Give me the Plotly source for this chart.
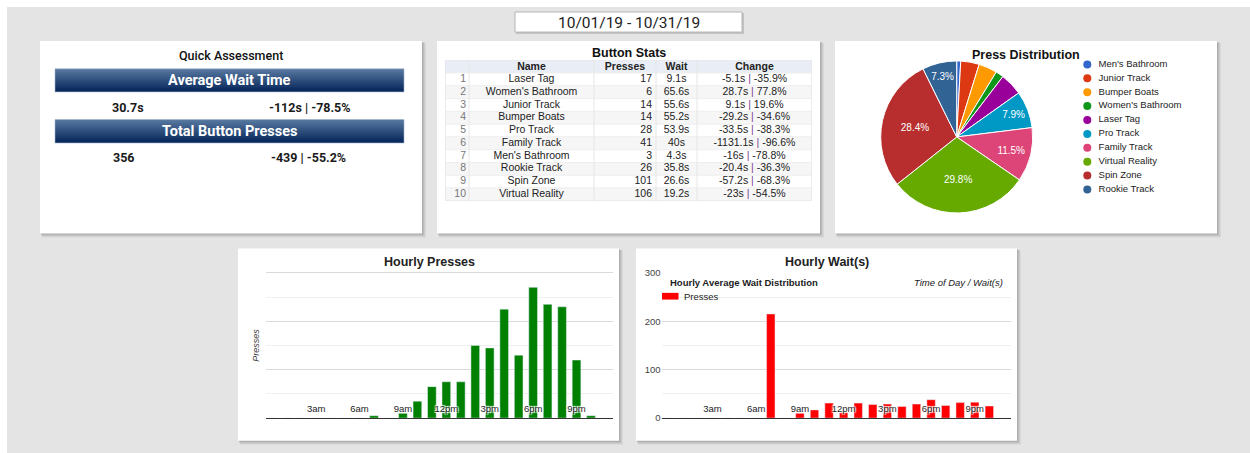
import plotly.graph_objects as go

W, H = 1250, 453

# ---------------- data ----------------
date_range = "10/01/19 - 10/31/19"
qa_title = "Quick Assessment"
avg_wait_label = "Average Wait Time"
avg_wait = "30.7s"
avg_wait_change = "-112s | -78.5%"
total_label = "Total Button Presses"
total_presses = "356"
total_presses_change = "-439 | -55.2%"

table_headers = ["", "Name", "Presses", "Wait", "Change"]
button_names = ["Laser Tag", "Women's Bathroom", "Junior Track", "Bumper Boats", "Pro Track",
                "Family Track", "Men's Bathroom", "Rookie Track", "Spin Zone", "Virtual Reality"]
button_presses = [17, 6, 14, 14, 28, 41, 3, 26, 101, 106]
button_wait = ["9.1s", "65.6s", "55.6s", "55.2s", "53.9s", "40s", "4.3s", "35.8s", "26.6s", "19.2s"]
change_secs = ["-5.1s", "28.7s", "9.1s", "-29.2s", "-33.5s", "-1131.1s", "-16s", "-20.4s", "-57.2s", "-23s"]
change_pct = ["-35.9%", "77.8%", "19.6%", "-34.6%", "-38.3%", "-96.6%", "-78.8%", "-36.3%", "-68.3%", "-54.5%"]

pie_labels = ["Men's Bathroom", "Junior Track", "Bumper Boats", "Women's Bathroom", "Laser Tag",
              "Pro Track", "Family Track", "Virtual Reality", "Spin Zone", "Rookie Track"]
pie_colors = ["#3366cc", "#dc3912", "#ff9900", "#109618", "#990099",
              "#0099c6", "#dd4477", "#66aa00", "#b82e2e", "#316395"]
pie_values = [button_presses[button_names.index(n)] for n in pie_labels]

hours = ["12am", "1am", "2am", "3am", "4am", "5am", "6am", "7am", "8am", "9am", "10am", "11am",
         "12pm", "1pm", "2pm", "3pm", "4pm", "5pm", "6pm", "7pm", "8pm", "9pm", "10pm", "11pm"]
hour_ticks = ["3am", "6am", "9am", "12pm", "3pm", "6pm", "9pm"]
hourly_presses = [0, 0, 0, 0, 0, 0, 0, 1, 0, 2, 7, 13, 15, 15, 30, 29, 45, 26, 54, 47, 46, 24, 1, 0]
hourly_wait = [0, 0, 0, 0, 0, 0, 0, 215, 0, 10, 17, 31, 12, 31, 28, 29, 24, 29, 38, 26, 32, 33, 25, 0]
wait_series_name = "Presses"

# ---------------- helpers ----------------
# vertical calibration of the captured page (measured offset / scale)
Y_OFF, Y_SC = 5.0, 0.976

def px(x):
    return x / W

def py(y):
    return 1 - ((y - Y_OFF) / Y_SC) / H

shapes = []
annotations = []

def rect(x0, y0, x1, y1, fill, line=None, lw=0, layer="below"):
    shapes.append(dict(type="rect", xref="paper", yref="paper",
                       x0=px(x0), x1=px(x1), y0=py(y1), y1=py(y0),
                       fillcolor=fill, line=dict(color=line or "rgba(0,0,0,0)", width=lw),
                       layer=layer))

def text(x, y, s, size=12, color="#222", family="Arial", weight="normal", style="normal",
         xanchor="center", angle=0):
    annotations.append(dict(x=px(x), y=py(y), xref="paper", yref="paper", text=s,
                            showarrow=False, xanchor=xanchor, yanchor="middle", textangle=angle,
                            font=dict(size=size, color=color, family=family, weight=weight, style=style)))

def panel(x0, y0, x1, y1):
    for d, a in [(4, 0.05), (3, 0.06), (2, 0.07), (1, 0.08)]:
        rect(x0 + d * 0.5, y0 + d * 0.5, x1 + d, y1 + d, "rgba(0,0,0,%.2f)" % a)
    rect(x0, y0, x1, y1, "white")

def hexmix(c0, c1, t):
    a = [int(c0[i:i + 2], 16) for i in (1, 3, 5)]
    b = [int(c1[i:i + 2], 16) for i in (1, 3, 5)]
    return "#%02x%02x%02x" % tuple(round(a[k] + (b[k] - a[k]) * t) for k in range(3))

def banner(x0, y0, x1, y1, label):
    n = 14
    h = (y1 - y0) / n
    for i in range(n):
        rect(x0, y0 + i * h, x1, y1, hexmix("#56779f", "#06275a", i / (n - 1)))
    rect(x0, y0, x1, y1, "rgba(0,0,0,0)", line="#9fb3cc", lw=0.6)
    text((x0 + x1) / 2, (y0 + y1) / 2 + 0.5, label, size=14.5, color="white",
         family="Roboto", weight="bold")

# ---------------- background & panels ----------------
rect(7, 7, W + 2, H + 20, "#e4e4e4")
rect(516, 13, 744, 34, "rgba(0,0,0,0.15)")
rect(515, 12, 742, 32, "white", line="#b5b5b5", lw=1)
text(628.5, 22.5, date_range, size=15.5, color="#222", family="Roboto")

panel(40, 41, 422, 233)
panel(437, 41, 820, 233)
panel(835, 41, 1217, 233)
panel(238, 248, 619, 440)
panel(636, 248, 1017, 440)

# ---------------- quick assessment ----------------
text(231, 55, qa_title, size=12.5, color="#111", family="Roboto", weight=500)
banner(55, 68.7, 404, 91.7, avg_wait_label)
text(128, 107, avg_wait, size=12.5, family="Roboto", weight="bold", color="#1a1a1a")
text(310, 107, avg_wait_change, size=12.5, family="Roboto", weight="bold", color="#1a1a1a")
banner(55, 119.3, 404, 142.7, total_label)
text(124, 157, total_presses, size=12.5, family="Roboto", weight="bold", color="#1a1a1a")
text(308, 157, total_presses_change, size=12.5, family="Roboto", weight="bold", color="#1a1a1a")

# ---------------- titles ----------------
text(629, 53.2, "Button Stats", size=12.5, weight="bold", color="#111")
text(1026, 55, "Press Distribution", size=12.5, weight="bold", color="#111")
text(430, 261.5, "Hourly Presses", size=12.5, weight="bold", color="#222")
text(827, 261.5, "Hourly Wait(s)", size=12.5, weight="bold", color="#222")
text(256, 345, "Presses", size=9, color="#444", style="italic", angle=-90)

text(667.5, 281.7, "Hourly Average Wait Distribution", size=9.5, weight="bold", color="#222", xanchor="left")
text(1005, 281.7, "Time of Day / Wait(s)", size=9.5, style="italic", color="#222", xanchor="right")
rect(662, 292.3, 678.5, 299, "#ff0000", layer="above")
text(682, 296, wait_series_name, size=9.5, color="#222", xanchor="left")

# ---------------- table (drawn on hidden axes x4/y4, x in px) ----------------
col_edges = [445, 469, 594, 656, 697, 812]
n_rows = len(button_names)
rows = list(range(1, n_rows + 1))

def tshape(x0, x1, y0, y1, fill=None, line=None):
    shapes.append(dict(type="rect", xref="x4", yref="y4", x0=x0, x1=x1, y0=y0, y1=y1,
                       fillcolor=fill or "rgba(0,0,0,0)",
                       line=dict(color=line or "rgba(0,0,0,0)", width=1 if line else 0),
                       layer="below"))

tshape(col_edges[0], col_edges[-1], -0.5, 0.5, fill="#e9eef6")
for r in rows:
    tshape(col_edges[0], col_edges[-1], r - 0.5, r + 0.5,
           fill="#f6f6f6" if r % 2 == 0 else "white", line="#efefef")
for e in col_edges[1:-1]:
    shapes.append(dict(type="line", xref="x4", yref="y4", x0=e, x1=e, y0=-0.5, y1=n_rows + 0.5,
                       line=dict(color="#e6e6e6", width=1), layer="below"))
tshape(col_edges[0], col_edges[-1], -0.5, n_rows + 0.5, line="#e3e3e3")

fig = go.Figure()

col_text_x = [466, 531.5, 652, 676.5, 754.5]
col_pos = ["middle left", "middle center", "middle left", "middle center", "middle center"]
header_x = [457, 531.5, 625, 676.5, 754.5]
fig.add_trace(go.Scatter(x=header_x, y=[0.05] * 5, mode="text", text=table_headers,
                         textfont=dict(family="Arial", size=10.5, color="#222", weight="bold"),
                         xaxis="x4", yaxis="y4", showlegend=False, hoverinfo="skip", cliponaxis=False))
change_text = [f"{s} <span style='color:#7b3f91'>|</span> {p}" for s, p in zip(change_secs, change_pct)]
col_values = [[str(r) for r in rows], button_names, [str(v) for v in button_presses], button_wait, change_text]
for cx, pos, vals, colr in zip(col_text_x, col_pos, col_values, ["#777", "#222", "#222", "#222", "#222"]):
    fig.add_trace(go.Scatter(x=[cx] * n_rows, y=rows, mode="text", text=vals, textposition=pos,
                             textfont=dict(family="Arial", size=10.5, color=colr),
                             xaxis="x4", yaxis="y4", showlegend=False, hoverinfo="skip",
                             cliponaxis=False))

# ---------------- pie ----------------
total = sum(pie_values)
pie_text = [f"{v / total * 100:.1f}%" if v / total >= 0.05 else "" for v in pie_values]
fig.add_trace(go.Pie(
    labels=pie_labels, values=pie_values, sort=False, direction="clockwise", rotation=0,
    marker=dict(colors=pie_colors, line=dict(color="white", width=1)),
    text=pie_text, textinfo="text", textposition="inside", insidetextorientation="horizontal",
    textfont=dict(family="Arial", size=10, color="white"),
    domain=dict(x=[px(880.7), px(1032.7)], y=[py(212.7), py(60.7)]),
    showlegend=False, hoverinfo="skip",
))

fig.add_trace(go.Scatter(
    x=[4] * len(pie_labels), y=pie_labels, mode="markers+text",
    marker=dict(color=pie_colors, size=8, symbol="circle"),
    text=["  " + n for n in pie_labels], textposition="middle right",
    textfont=dict(family="Arial", size=9.5, color="#222"),
    xaxis="x3", yaxis="y3", showlegend=False, hoverinfo="skip", cliponaxis=False,
))

# ---------------- hourly bars ----------------
fig.add_trace(go.Bar(x=hours, y=hourly_presses, marker=dict(color="#008000"), width=0.6,
                     xaxis="x", yaxis="y", showlegend=False, name="Presses"))
fig.add_trace(go.Bar(x=hours, y=hourly_wait, marker=dict(color="#ff0000"), width=0.58,
                     xaxis="x2", yaxis="y2", showlegend=False, name=wait_series_name))

halo = "1px 1px 1px white, -1px -1px 1px white, 1px -1px 1px white, -1px 1px 1px white"
xcommon = dict(type="category", categoryorder="array", categoryarray=hours, range=[-0.5, 23.5],
               tickmode="array", tickvals=hour_ticks, ticktext=hour_ticks,
               ticklabelposition="outside", ticklabelstandoff=-19, ticks="", showgrid=False,
               showline=True, linecolor="#333", linewidth=1, zeroline=False,
               tickfont=dict(family="Arial", size=9.5, color="#222", shadow=halo),
               layer="above traces", fixedrange=True)

fig.update_layout(
    width=W, height=H, margin=dict(l=0, r=0, t=0, b=0),
    paper_bgcolor="white", plot_bgcolor="rgba(0,0,0,0)", hovermode=False,
    shapes=shapes, annotations=annotations, showlegend=False,
    xaxis=dict(domain=[px(265.5), px(612.7)], anchor="y", **xcommon),
    yaxis=dict(domain=[py(417.3), py(271.1)], anchor="x", range=[0, 60.5], dtick=20,
               showticklabels=False, gridcolor="#dadada", gridwidth=1, zeroline=False,
               minor=dict(dtick=10, showgrid=True, gridcolor="#efefef"), fixedrange=True),
    xaxis2=dict(domain=[px(661.5), px(1011.2)], anchor="y2", **xcommon),
    yaxis2=dict(domain=[py(417.3), py(271.3)], anchor="x2", range=[0, 302], dtick=100,
                tickfont=dict(family="Arial", size=9.5, color="#444"),
                gridcolor="#dadada", gridwidth=1, zeroline=False, ticks="",
                minor=dict(dtick=50, showgrid=True, gridcolor="#efefef"), fixedrange=True),
    xaxis3=dict(domain=[px(1083.3), px(1213.3)], anchor="y3", range=[0, 130], visible=False,
                fixedrange=True),
    yaxis3=dict(domain=[py(196.0), py(57.4)], anchor="x3", type="category",
                categoryorder="array", categoryarray=pie_labels, range=[9.5, -0.5],
                visible=False, fixedrange=True),
    xaxis4=dict(domain=[px(445), px(812)], anchor="y4", range=[445, 812], visible=False,
                fixedrange=True),
    yaxis4=dict(domain=[py(200.4), py(60.2)], anchor="x4", range=[n_rows + 0.5, -0.5],
                visible=False, fixedrange=True),
)

post = ("var gd=document.getElementById('{plot_id}');"
        "document.body.style.margin='0';"
        "gd.style.position='fixed';gd.style.left='0px';gd.style.top='0px';")
fig.write_html("out.html", post_script=post, config={"displayModeBar": False, "staticPlot": True})
